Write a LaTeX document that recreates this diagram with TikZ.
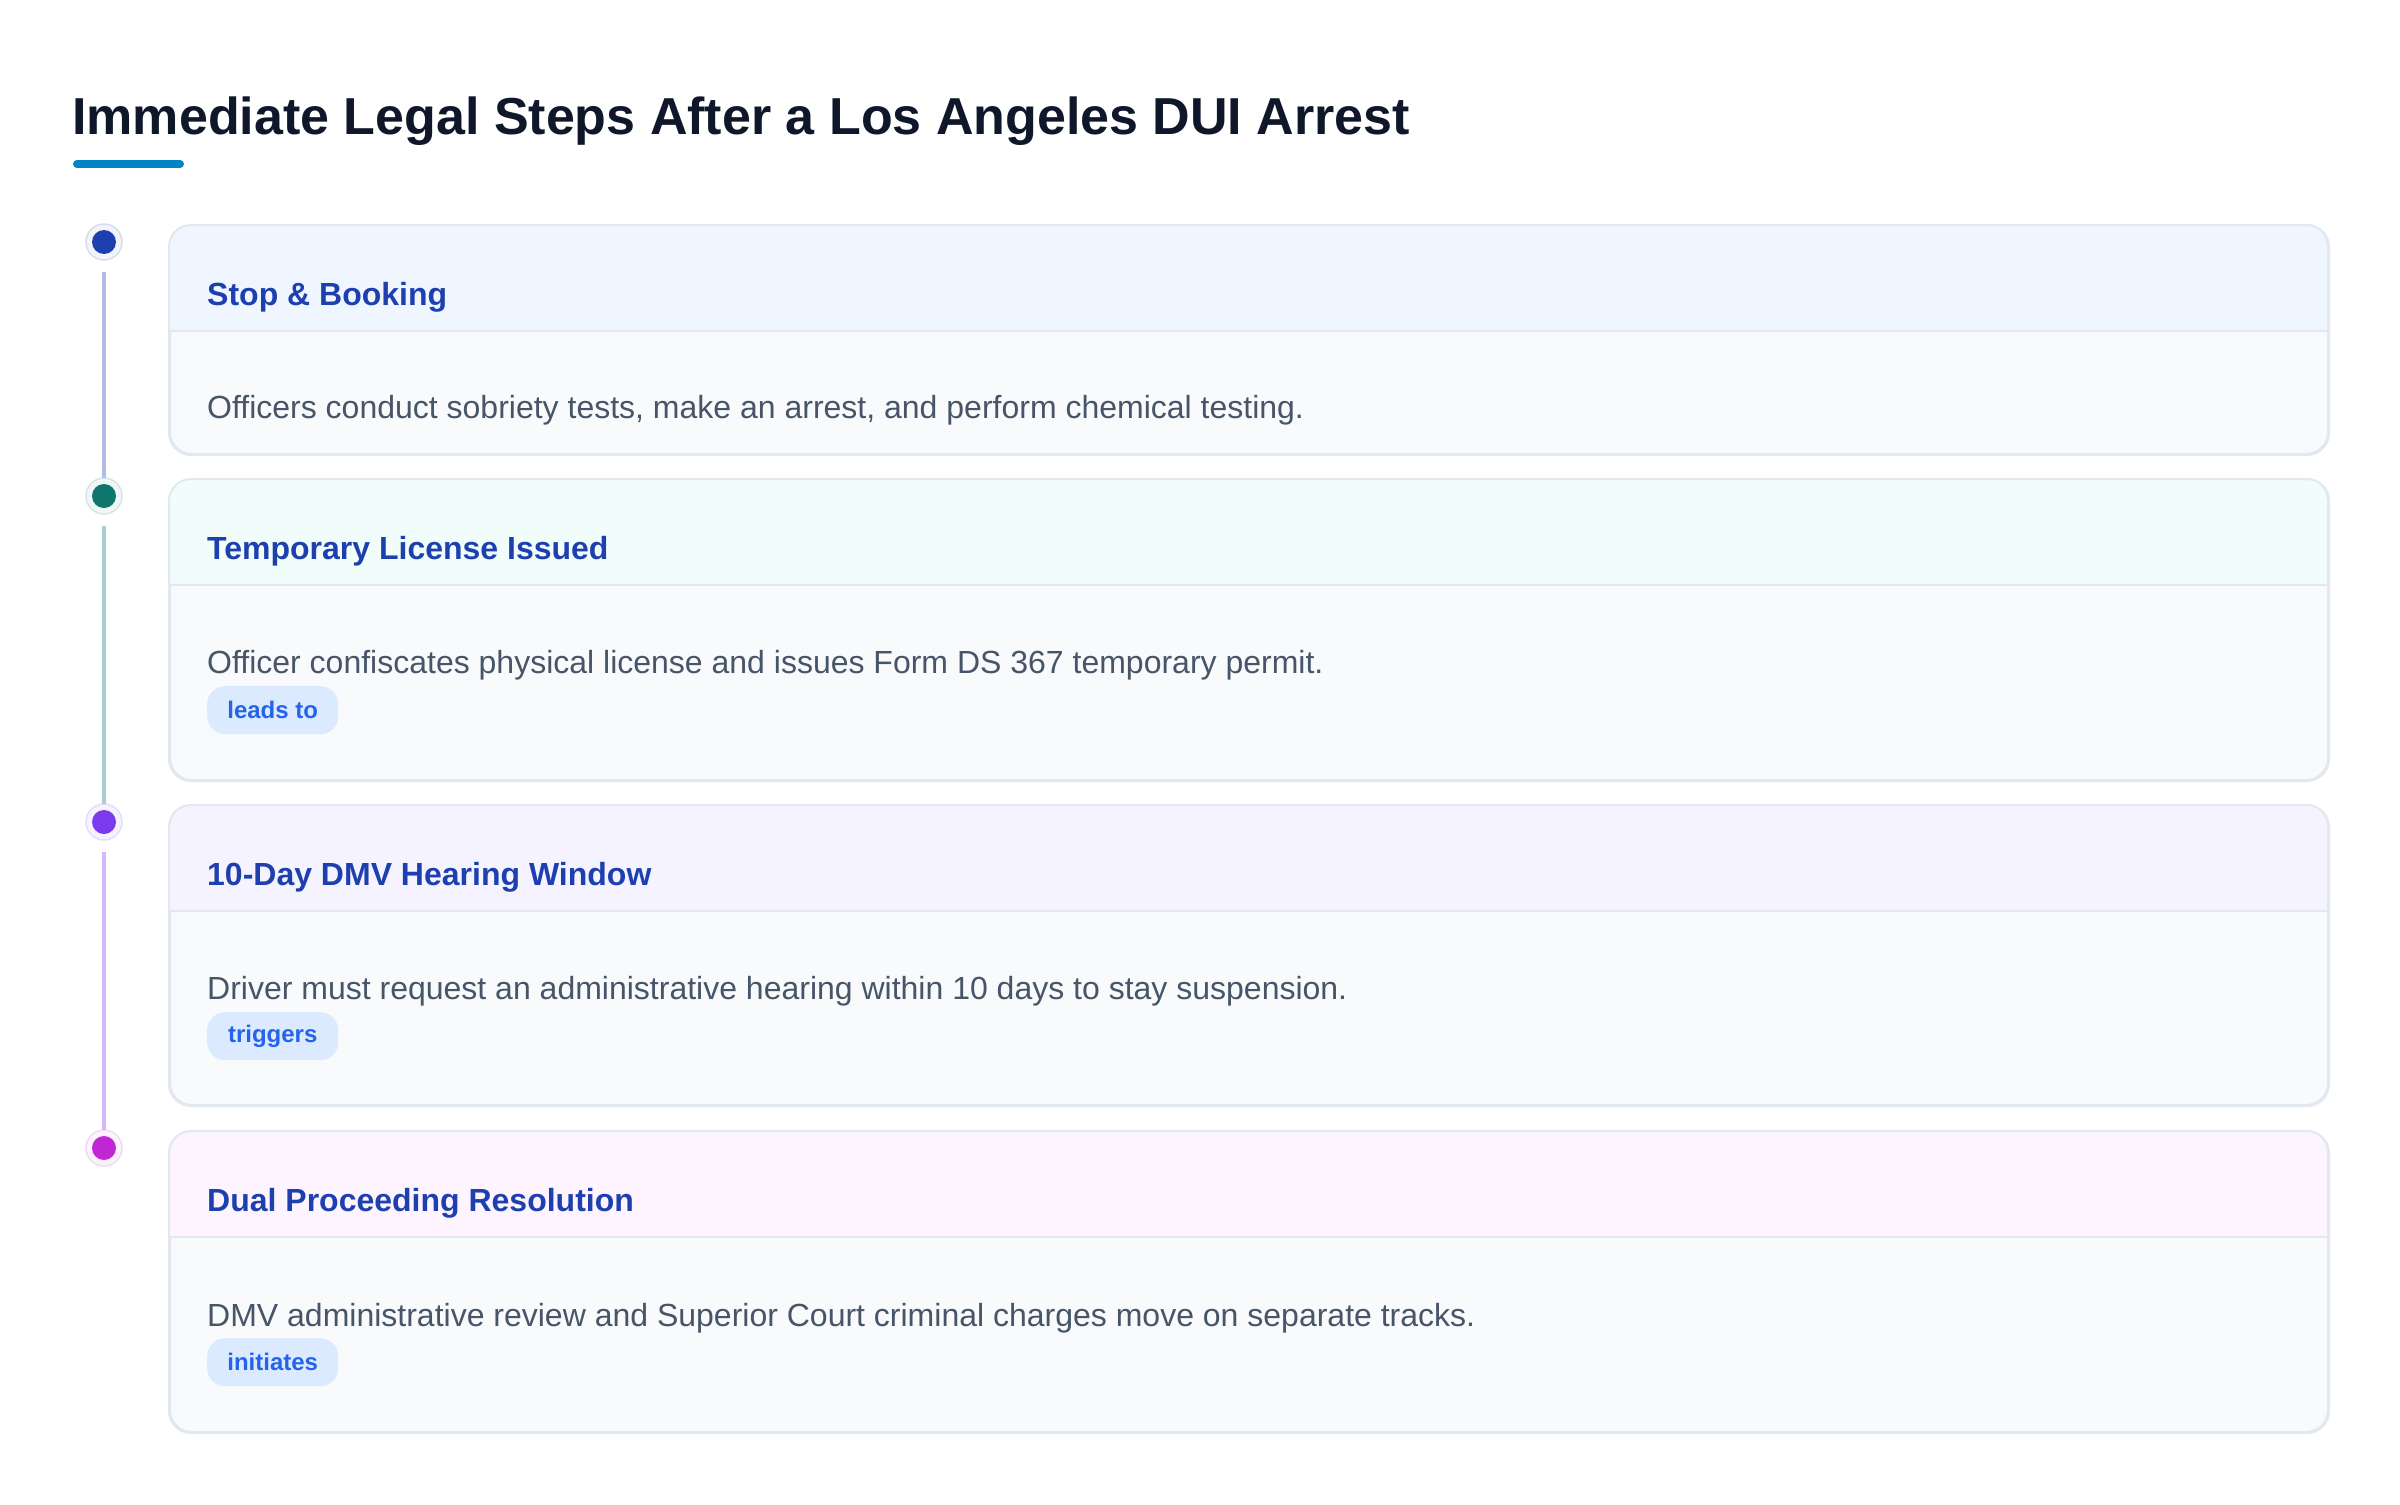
\documentclass[tikz,border=0pt]{standalone}
\usepackage{fontspec}
\setmainfont{Liberation Sans}
\definecolor{titlecol}{HTML}{0F172A}
\definecolor{accent}{HTML}{0284C7}
\definecolor{headtext}{HTML}{1E40AF}
\definecolor{bodytext}{HTML}{475569}
\definecolor{badgefill}{HTML}{DBEAFE}
\definecolor{badgetext}{HTML}{2563EB}
\definecolor{cardborder}{HTML}{E2E8F0}
\definecolor{bodyfill}{HTML}{F8FAFC}
\definecolor{headA}{HTML}{EFF6FF}
\definecolor{headB}{HTML}{F0FDFA}
\definecolor{headC}{HTML}{F5F3FF}
\definecolor{headD}{HTML}{FDF4FF}
\definecolor{dotA}{HTML}{1E40AF}
\definecolor{dotB}{HTML}{0F766E}
\definecolor{dotC}{HTML}{7C3AED}
\definecolor{dotD}{HTML}{C026D3}
\tikzset{
  cardbox/.style={draw=cardborder, line width=2pt, fill=bodyfill, rounded corners=22pt,
    anchor=north west, minimum width=2158pt, inner sep=0pt},
  cardline/.style={draw=cardborder, line width=2pt},
  headlabel/.style={anchor=base west, inner sep=0pt, text=headtext,
    font=\fontsize{32}{38}\selectfont\bfseries},
  bodylabel/.style={anchor=base west, inner sep=0pt, text=bodytext,
    font=\fontsize{32}{38}\selectfont},
  badge/.style={anchor=north west, fill=badgefill, text=badgetext, rounded corners=18pt,
    minimum width=131pt, minimum height=48pt, inner sep=0pt,
    font=\fontsize{24}{28}\selectfont\bfseries},
  dotring/.style={circle, minimum size=36pt, inner sep=0pt, fill=#1!6, draw=#1!18, line width=1.5pt},
  dotcore/.style={circle, minimum size=24pt, inner sep=0pt, fill=#1},
  seg/.style={draw=#1!35, line width=4pt},
}
\newcommand{\stepcard}[5]{% name, top, height, header colour, dot colour
  \node[cardbox, minimum height=#3 pt] (#1) at (169,#2) {};
  \begin{scope}
    \clip[rounded corners=22pt] (169,#2) rectangle (2327,{#2+#3});
    \fill[#4] (169,#2) rectangle (2327,{#2+106});
  \end{scope}
  \draw[cardline] (169,{#2+106}) -- (2327,{#2+106});
  \draw[cardline, rounded corners=22pt] (#1.north west) rectangle (#1.south east);
  \node[dotring=#5] (#1ring) at (104,{#2+17}) {};
  \node[dotcore=#5] (#1dot) at (104,{#2+17}) {};
}
\begin{document}
\begin{tikzpicture}[x=1pt, y=-1pt]
\useasboundingbox (0,0) rectangle (2400,1504);
\fill[white] (0,0) rectangle (2400,1504);

\node[anchor=base west, inner sep=0pt, text=titlecol, font=\fontsize{52}{60}\selectfont\bfseries]
  (title) at (72,134) {Immediate Legal Steps After a Los Angeles DUI Arrest};
\draw[accent, line width=8pt, line cap=round] (77,164) coordinate (ulA) -- (180,164) coordinate (ulB);

\stepcard{c1}{225}{228}{headA}{dotA}
\stepcard{c2}{479}{300}{headB}{dotB}
\stepcard{c3}{805}{299}{headC}{dotC}
\stepcard{c4}{1131}{300}{headD}{dotD}

\draw[seg=dotA] ([yshift=-30pt]c1dot.center) -- ([yshift=18pt]c2dot.center);
\draw[seg=dotB] ([yshift=-30pt]c2dot.center) -- ([yshift=18pt]c3dot.center);
\draw[seg=dotC] ([yshift=-30pt]c3dot.center) -- ([yshift=18pt]c4dot.center);

\node[headlabel] (h1) at (207,305) {Stop \& Booking};
\node[bodylabel] (b1) at (207,418) {Officers conduct sobriety tests, make an arrest, and perform chemical testing.};

\node[headlabel] (h2) at (207,559) {Temporary License Issued};
\node[bodylabel] (b2) at (207,673) {Officer confiscates physical license and issues Form DS 367 temporary permit.};
\node[badge] (t2) at (207,686) {leads to};

\node[headlabel] (h3) at (207,885) {10-Day DMV Hearing Window};
\node[bodylabel] (b3) at (207,999) {Driver must request an administrative hearing within 10 days to stay suspension.};
\node[badge] (t3) at (207,1012) {triggers};

\node[headlabel] (h4) at (207,1211) {Dual Proceeding Resolution};
\node[bodylabel] (b4) at (207,1326) {DMV administrative review and Superior Court criminal charges move on separate tracks.};
\node[badge] (t4) at (207,1338) {initiates};
\end{tikzpicture}
\end{document}
